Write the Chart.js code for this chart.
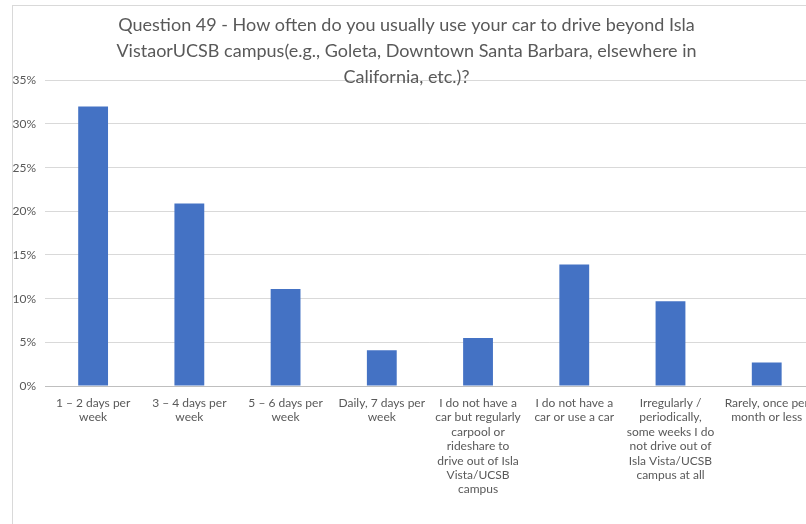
<!DOCTYPE html>
<html>
<head>
<meta charset="utf-8">
<script src="https://cdn.jsdelivr.net/npm/chart.js@4"></script>
<style>
html,body{margin:0;padding:0;background:#fff;overflow:hidden;width:806px;height:524px;}
#box{position:absolute;left:12px;top:5px;width:806px;height:540px;border:1px solid #d9d9d9;background:#fff;}
canvas{display:block;}
</style>
</head>
<body>
<div id="box"><canvas id="c" width="806" height="540"></canvas></div>
<script>
const titleLines = [
  "Question 49 - How often do you usually use your car to drive beyond Isla",
  "VistaorUCSB campus(e.g., Goleta, Downtown Santa Barbara, elsewhere in",
  "California, etc.)?"
];
const categories = [
  ["1 – 2 days per", "week"],
  ["3 – 4 days per", "week"],
  ["5 – 6 days per", "week"],
  ["Daily, 7 days per", "week"],
  ["I do not have a", "car but regularly", "carpool or", "rideshare to", "drive out of Isla", "Vista/UCSB", "campus"],
  ["I do not have a", "car or use a car"],
  ["Irregularly /", "periodically,", "some weeks I do", "not drive out of", "Isla Vista/UCSB", "campus at all"],
  ["Rarely, once per", "month or less"]
];
const values = [0.320, 0.209, 0.111, 0.041, 0.055, 0.139, 0.097, 0.027];
const yTicks = [0, 0.05, 0.10, 0.15, 0.20, 0.25, 0.30, 0.35];

const FONT = "Lato, 'Open Sans', sans-serif";

const titleShift = {
  id: 'titleShift',
  afterLayout(chart) {
    if (chart.titleBlock) { chart.titleBlock.right -= 16; }
  }
};

new Chart(document.getElementById('c'), {
  type: 'bar',
  data: {
    labels: categories,
    datasets: [{
      data: values,
      backgroundColor: '#4472C4',
      borderWidth: 0,
      barPercentage: 0.31,
      categoryPercentage: 1.0
    }]
  },
  plugins: [titleShift],
  options: {
    responsive: false,
    animation: false,
    layout: { padding: { left: 0, right: 3, top: 0, bottom: 0 } },
    plugins: {
      legend: { display: false },
      tooltip: { enabled: false },
      title: {
        display: true,
        text: titleLines,
        color: '#595959',
        font: { family: FONT, size: 18, weight: 'normal', lineHeight: 1.45 },
        padding: { top: 6, bottom: -10 }
      }
    },
    scales: {
      y: {
        min: 0, max: 0.35,
        afterFit: s => { s.width = 32; },
        afterBuildTicks: s => { s.ticks = yTicks.map(v => ({ value: v })); },
        grid: { color: '#d9d9d9', drawTicks: false, lineWidth: 1 },
        border: { display: false },
        ticks: {
          padding: 9,
          color: '#595959',
          font: { family: FONT, size: 12 },
          callback: v => Math.round(v * 100) + '%'
        }
      },
      x: {
        afterFit: s => { s.height = 160; },
        grid: { display: false, drawTicks: false },
        border: { display: true, color: '#bfbfbf' },
        ticks: {
          autoSkip: false, maxRotation: 0, minRotation: 0,
          padding: 10,
          color: '#595959',
          font: { family: FONT, size: 12, lineHeight: 1.2 }
        }
      }
    }
  }
});
</script>
</body>
</html>
